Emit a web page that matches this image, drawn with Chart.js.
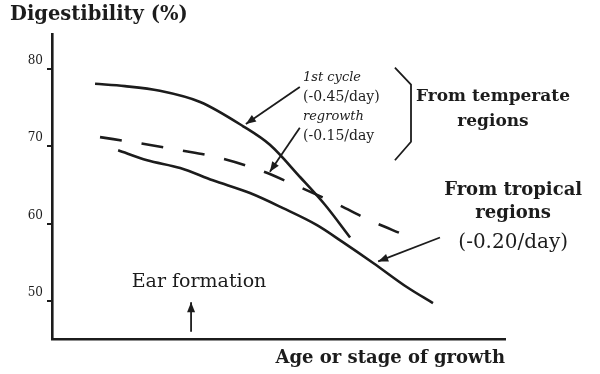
<!DOCTYPE html>
<html>
<head>
<meta charset="utf-8">
<title>Digestibility vs age</title>
<script src="https://cdn.jsdelivr.net/npm/chart.js@4/dist/chart.umd.min.js"></script>
<style>
  html, body { margin: 0; padding: 0; background: #fff; }
  #wrap { width: 600px; height: 374px; }
</style>
</head>
<body>
<div id="wrap"><canvas id="chart" width="600" height="374"></canvas></div>
<script>
/* ---- data (x = relative age, 0..100) ---- */
var firstCycleX = [9.5, 16.1, 23.8, 32.7, 42.2, 48.1, 54.8, 60.3, 65.8];
var firstCycleY = [78.1, 77.8, 77.2, 75.75, 72.6, 70.2, 66.0, 62.4, 58.2];

var regrowthX = [10.6, 19.4, 28.3, 36.4, 45.9, 53.6, 62.5, 70.2, 77.5];
var regrowthY = [71.2, 70.4, 69.5, 68.6, 66.9, 65.0, 62.65, 60.4, 58.6];

var tropicalX = [14.6, 21.0, 28.3, 35.5, 43.7, 51.0, 58.5, 64.2, 70.9, 78.4, 84.1];
var tropicalY = [69.5, 68.2, 67.2, 65.6, 63.95, 62.0, 59.8, 57.6, 54.9, 51.75, 49.7];

var yTicks = [50, 60, 70, 80];

(function (global) {
  'use strict';

  var INK = '#1c1c1c';
  var SERIF = '"DejaVu Serif", "Liberation Serif", serif';

  function pts(xs, ys) { return xs.map(function (x, i) { return { x: x, y: ys[i] }; }); }

  function line(label, xs, ys, dash) {
    return {
      label: label, data: pts(xs, ys),
      borderColor: INK, borderWidth: 2.6, borderDash: dash || [],
      pointRadius: 0, fill: false, tension: 0.4, cubicInterpolationMode: 'monotone',
    };
  }

  /* annotations, in data units so they follow the scales */
  var texts = [
    { t: '1st cycle', x: 55.4, y: 78.9, font: 'italic 13px ' + SERIF, align: 'left' },
    { t: '(-0.45/day)', x: 55.4, y: 76.4, font: '14px ' + SERIF, align: 'left' },
    { t: 'regrowth', x: 55.4, y: 73.8, font: 'italic 13px ' + SERIF, align: 'left' },
    { t: '(-0.15/day', x: 55.4, y: 71.35, font: '14px ' + SERIF, align: 'left' },
    { t: 'From temperate', x: 97.35, y: 76.4, font: 'bold 17px ' + SERIF, align: 'center' },
    { t: 'regions', x: 97.35, y: 73.15, font: 'bold 17px ' + SERIF, align: 'center' },
    { t: 'From tropical', x: 101.8, y: 64.35, font: 'bold 18px ' + SERIF, align: 'center' },
    { t: 'regions', x: 101.8, y: 61.35, font: 'bold 18px ' + SERIF, align: 'center' },
    { t: '(-0.20/day)', x: 101.8, y: 57.45, font: '20px ' + SERIF, align: 'center' },
    { t: 'Ear formation', x: 32.45, y: 52.4, font: '19px ' + SERIF, align: 'center' },
  ];
  var arrows = [
    { from: [54.7, 77.7], to: [42.8, 72.9] },
    { from: [54.7, 72.4], to: [48.1, 66.7] },
    { from: [85.65, 58.2], to: [72.0, 55.1] },
    { from: [30.7, 46.0], to: [30.7, 49.8] },
  ];
  var bracket = [[75.7, 80.2], [79.25, 78.0], [79.25, 70.6], [75.7, 68.2]];

  function arrow(ctx, x1, y1, x2, y2) {
    var a = Math.atan2(y2 - y1, x2 - x1), L = 10, W = 4;
    ctx.beginPath(); ctx.moveTo(x1, y1); ctx.lineTo(x2, y2); ctx.stroke();
    ctx.beginPath();
    ctx.moveTo(x2, y2);
    ctx.lineTo(x2 - L * Math.cos(a) + W * Math.sin(a), y2 - L * Math.sin(a) - W * Math.cos(a));
    ctx.lineTo(x2 - L * Math.cos(a) - W * Math.sin(a), y2 - L * Math.sin(a) + W * Math.cos(a));
    ctx.closePath(); ctx.fill();
  }

  var notes = {
    id: 'notes',
    afterDraw: function (chart) {
      var ctx = chart.ctx, sx = chart.scales.x, sy = chart.scales.y;
      function px(v) { return sx.getPixelForValue(v); }
      function py(v) { return sy.getPixelForValue(v); }
      ctx.save();
      ctx.fillStyle = INK; ctx.strokeStyle = INK;
      ctx.textBaseline = 'middle';
      texts.forEach(function (n) {
        ctx.font = n.font; ctx.textAlign = n.align;
        ctx.fillText(n.t, px(n.x), py(n.y));
      });
      ctx.lineWidth = 1.8;
      arrows.forEach(function (a) { arrow(ctx, px(a.from[0]), py(a.from[1]), px(a.to[0]), py(a.to[1])); });
      ctx.beginPath();
      bracket.forEach(function (p, i) {
        if (i) ctx.lineTo(px(p[0]), py(p[1])); else ctx.moveTo(px(p[0]), py(p[1]));
      });
      ctx.stroke();
      ctx.restore();
    },
  };

  new Chart(document.getElementById('chart').getContext('2d'), {
    type: 'line',
    data: {
      datasets: [
        line('1st cycle', firstCycleX, firstCycleY),
        line('regrowth', regrowthX, regrowthY, [22, 20]),
        line('From tropical regions', tropicalX, tropicalY),
      ],
    },
    options: {
      responsive: false, animation: false,
      layout: { padding: { left: 10, right: 95, top: 0, bottom: 0 } },
      plugins: {
        legend: { display: false }, tooltip: { enabled: false },
        title: {
          display: true, align: 'start', text: 'Digestibility (%)', color: INK,
          font: { family: SERIF, size: 19.5, weight: 'bold' }, padding: { top: 3, bottom: 8 },
        },
      },
      scales: {
        x: {
          type: 'linear', min: 0, max: 100,
          ticks: { display: false },
          grid: { display: false },
          border: { display: true, color: INK, width: 2.6 },
          title: {
            display: true, align: 'end', text: 'Age or stage of growth', color: INK,
            font: { family: SERIF, size: 18, weight: 'bold' }, padding: { top: 0, bottom: 5 },
          },
        },
        y: {
          min: 45, max: 84.5,
          afterBuildTicks: function (s) { s.ticks = yTicks.map(function (v) { return { value: v }; }); },
          afterFit: function (s) { s.width = 42; },
          ticks: { color: INK, font: { family: SERIF, size: 12 }, padding: 4, labelOffset: -8 },
          grid: { drawOnChartArea: false, drawTicks: true, tickLength: 5, color: INK, lineWidth: 2 },
          border: { display: true, color: INK, width: 2.6 },
        },
      },
    },
    plugins: [notes],
  });
})(window);
</script>
</body>
</html>
